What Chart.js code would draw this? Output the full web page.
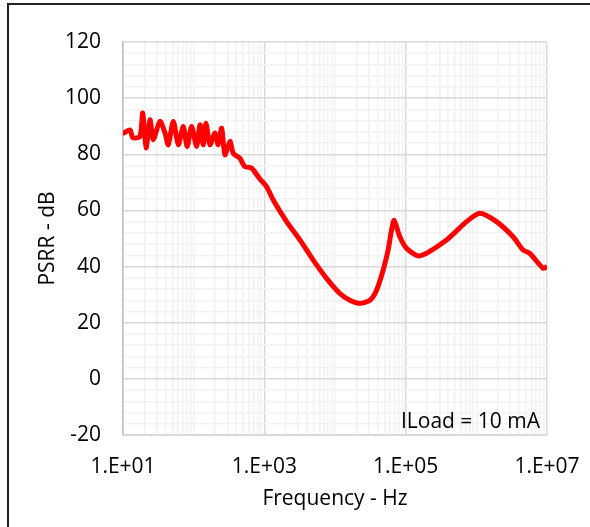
<!DOCTYPE html>
<html>
<head>
<meta charset="utf-8">
<script src="https://cdn.jsdelivr.net/npm/chart.js@4"></script>
<style>
  html, body { margin: 0; padding: 0; background: #fff; overflow: hidden; }
  #wrap { position: relative; width: 590px; height: 527px; }
  #frame { position: absolute; left: 7px; top: 3px; width: 700px; height: 700px; border: 2px solid #222; box-sizing: border-box; pointer-events: none; }
</style>
</head>
<body>
<div id="wrap">
  <canvas id="psrr" width="590" height="527"></canvas>
  <div id="frame"></div>
</div>
<script>
// PSRR vs frequency, ILoad = 10 mA
const freq = [
  10, 10.3, 12.6, 13.8, 17.4, 19.0, 21.2, 24.1, 26.8, 33.3, 39.3, 43.7, 51.5, 60.6,
  71.2, 81, 93.5, 110, 123, 137, 149, 170, 200, 222, 249, 277, 326, 363, 450, 530,
  658, 866, 1075, 1337, 2065, 3185, 4920, 7600, 11730, 16230, 22500, 31200, 38750,
  48100, 56500, 63100, 68700, 82700, 103000, 158500, 379000, 727000, 1120000,
  1930000, 3310000, 4590000, 5710000, 8810000, 10000000
];
const psrr = [
  87.6, 87.6, 88.7, 85.9, 86.4, 94.7, 82.3, 92.3, 85.2, 91.7, 87.6, 83.4, 91.7, 83.4,
  89.9, 82.8, 89.9, 82.8, 90.5, 83.4, 91.1, 83.4, 87.6, 83.4, 89.3, 79.8, 84.6, 80.4, 78.6, 75.6,
  75.1, 71.2, 68.5, 63.7, 56, 49.5, 42.3, 35.8, 30.4, 28, 26.9, 28, 31.6,
  38.8, 45.9, 53, 56.4, 50.6, 46.5, 43.8, 49.5, 56, 59,
  56, 50.6, 45.9, 44.7, 39.4, 40
];
const xLabels = { 1: "1.E+01", 3: "1.E+03", 5: "1.E+05", 7: "1.E+07" };
const yMin = -20, yMax = 120;

const font = { family: "'Open Sans', sans-serif", size: 21 };

// every 1..9 x 10^n between 10 and 1e7
const logTicks = [];
for (let e = 1; e < 7; e++) {
  for (let m = 1; m < 10; m++) logTicks.push({ value: m * Math.pow(10, e) });
}
logTicks.push({ value: 1e7 });

function isMajorX(v) {
  const e = Math.log10(v);
  return Math.abs(e - Math.round(e)) < 1e-9 && Math.round(e) % 2 === 1;
}

const notePlugin = {
  id: "note",
  afterDatasetsDraw(chart) {
    const { ctx, chartArea } = chart;
    ctx.save();
    ctx.font = "21px 'Open Sans', sans-serif";
    ctx.fillStyle = "#000";
    ctx.textAlign = "right";
    ctx.textBaseline = "middle";
    ctx.fillText("ILoad = 10 mA", chartArea.right - 7, chartArea.bottom - 13);
    ctx.restore();
  }
};

new Chart(document.getElementById("psrr").getContext("2d"), {
  type: "line",
  data: {
    datasets: [{
      data: freq.map((f, i) => ({ x: f, y: psrr[i] })),
      borderColor: "#ff0000",
      borderWidth: 5,
      pointRadius: 0,
      tension: 0.25,
      fill: false
    }]
  },
  options: {
    responsive: false,
    animation: false,
    layout: { padding: { top: 42, right: 43, left: 31, bottom: 11 } },
    plugins: { legend: { display: false }, tooltip: { enabled: false } },
    scales: {
      x: {
        type: "logarithmic",
        min: 10,
        max: 1e7,
        afterBuildTicks: (s) => { s.ticks = logTicks.map(t => ({ value: t.value })); },
        afterFit: (s) => { s.height = 81; s.paddingLeft = 0; s.paddingRight = 0; },
        border: { color: "#d9d9d9", width: 1 },
        grid: {
          drawTicks: false,
          color: (c) => (c.tick && isMajorX(c.tick.value) ? "#d9d9d9" : "#f2f2f2"),
          lineWidth: 1.5
        },
        ticks: {
          autoSkip: false,
          maxRotation: 0,
          padding: 19,
          color: "#000",
          font: font,
          callback: (v) => {
            const e = Math.round(Math.log10(v));
            return isMajorX(v) ? xLabels[e] : "";
          }
        },
        title: { display: true, text: "Frequency - Hz", color: "#000", font: font, padding: { top: 4 } }
      },
      y: {
        min: yMin,
        max: yMax,
        afterFit: (s) => { s.width = 92; },
        border: { color: "#bfbfbf", width: 1.5 },
        grid: {
          drawTicks: false,
          color: (c) => (c.tick && c.tick.value % 20 === 0 ? "#d9d9d9" : "#f2f2f2"),
          lineWidth: 1.5
        },
        ticks: {
          stepSize: 4,
          autoSkip: false,
          padding: 22,
          color: "#000",
          font: font,
          callback: (v) => (v % 20 === 0 ? v : "")
        },
        title: { display: true, text: "PSRR - dB", color: "#000", font: font, padding: { bottom: 4 } }
      }
    }
  },
  plugins: [notePlugin]
});
</script>
</body>
</html>
